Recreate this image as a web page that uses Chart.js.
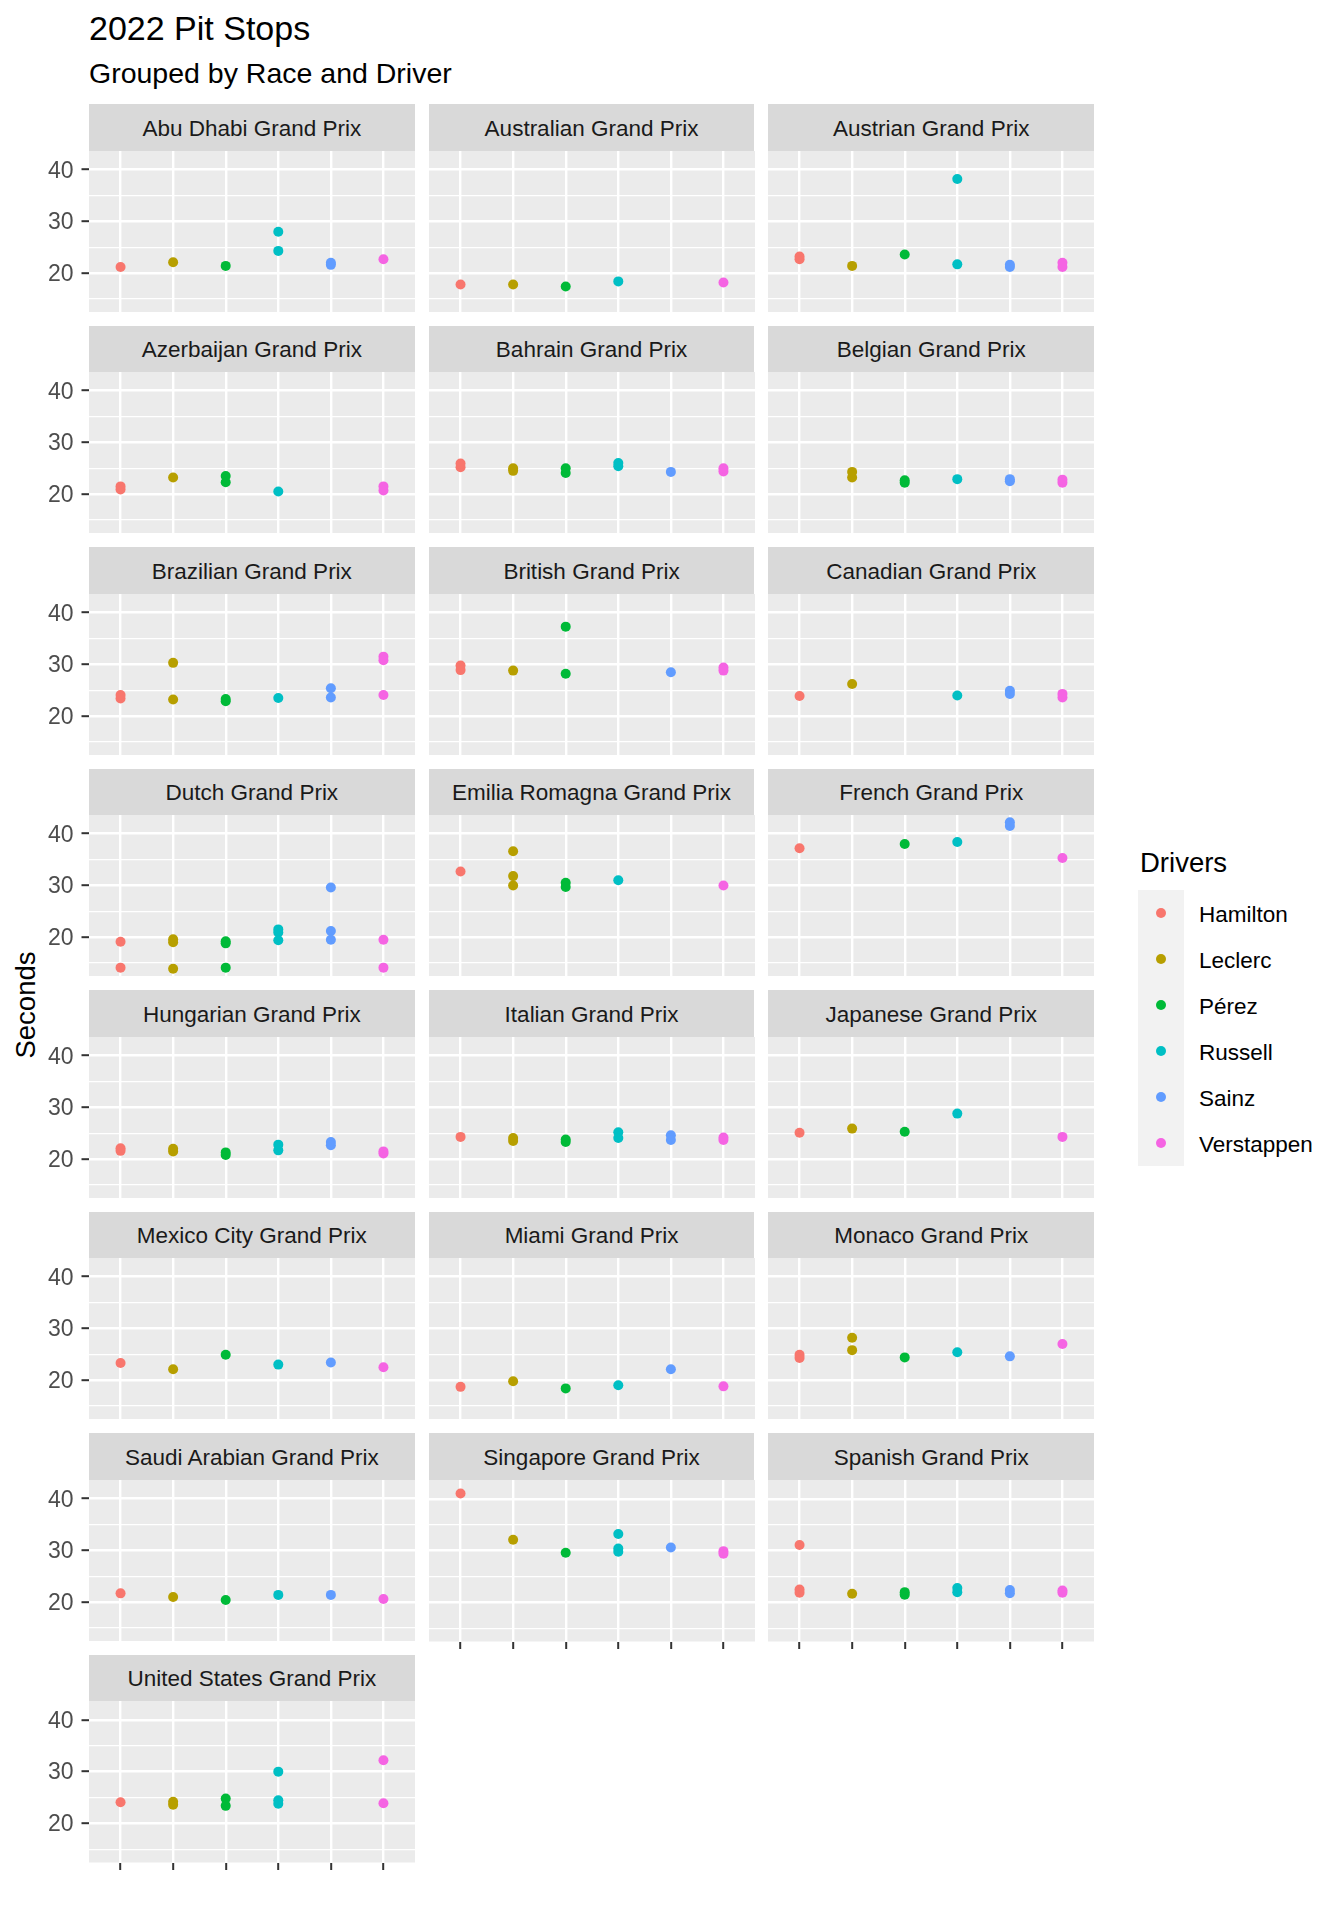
<!DOCTYPE html>
<html>
<head>
<meta charset="utf-8">
<script src="https://cdn.jsdelivr.net/npm/chart.js@4"></script>
<style>
  body { margin: 0; background: #fff; width: 1344px; height: 1920px; position: relative; font-family: "Liberation Sans", Arial, sans-serif; }
  .abs { position: absolute; white-space: nowrap; }
  .strip { position: absolute; background: #D9D9D9; color: #1A1A1A; font-size: 22.5px; text-align: center; white-space: nowrap; }
  .legtxt { position: absolute; font-size: 22.5px; color: #000; line-height: 46px; white-space: nowrap; }
</style>
</head>
<body>
<div class="abs" style="left:89px; top:11px; font-size:34px; line-height:34px; color:#000;">2022 Pit Stops</div>
<div class="abs" style="left:89px; top:59px; font-size:28.5px; line-height:28.5px; color:#000;">Grouped by Race and Driver</div>
<div class="abs" style="left:26px; top:1005px; font-size:27.5px; color:#000; transform: translate(-50%, -50%) rotate(-90deg);">Seconds</div>
<div id="root"></div>
<script>
Chart.defaults.font.family = '"Liberation Sans", Arial, sans-serif';

const races = ['Abu Dhabi Grand Prix', 'Australian Grand Prix', 'Austrian Grand Prix',
  'Azerbaijan Grand Prix', 'Bahrain Grand Prix', 'Belgian Grand Prix',
  'Brazilian Grand Prix', 'British Grand Prix', 'Canadian Grand Prix',
  'Dutch Grand Prix', 'Emilia Romagna Grand Prix', 'French Grand Prix',
  'Hungarian Grand Prix', 'Italian Grand Prix', 'Japanese Grand Prix',
  'Mexico City Grand Prix', 'Miami Grand Prix', 'Monaco Grand Prix',
  'Saudi Arabian Grand Prix', 'Singapore Grand Prix', 'Spanish Grand Prix',
  'United States Grand Prix'];
const drivers = ['Hamilton', 'Leclerc', 'Pérez', 'Russell', 'Sainz', 'Verstappen'];
const driverColors = ['#F8766D', '#B79F00', '#00BA38', '#00BFC4', '#619CFF', '#F564E3'];
const yTicks = [15, 20, 25, 30, 35, 40];

// pit stop times (seconds), one list per race in the order of `races`
const hamilton = [[21.2], [17.8], [22.7, 23.2], [20.9, 21.5], [25.2, 25.9], [], [23.4, 24.1],
  [29.8, 28.9], [23.9], [19.1, 14.1], [32.7], [37.2], [21.6, 22.1], [24.3], [25.1], [23.3],
  [18.7], [24.3, 24.9], [21.7], [41.0], [31.1, 22.5, 21.9], [24.1]];
const leclerc = [[22.1], [17.8], [21.4], [23.2], [24.5, 25.0], [23.2, 24.3], [30.3, 23.2],
  [28.8], [26.2], [19.0, 19.6, 13.9], [36.6, 31.8, 30.0], [], [21.5, 22.0], [23.5, 24.1],
  [25.9], [22.1], [19.8], [28.2, 25.8], [21.0], [32.1], [21.7], [24.2, 23.6]];
const perez = [[21.4], [17.4], [23.6], [23.5, 22.3], [24.1, 25.0], [22.2, 22.7], [22.9, 23.3],
  [37.3, 28.2], [], [18.8, 19.2, 14.1], [30.5, 29.7], [38.0], [20.8, 21.3], [23.3, 23.8],
  [25.3], [24.9], [18.4], [24.4], [20.4], [29.6], [22.0, 21.5], [24.8, 23.4]];
const russell = [[28.0, 24.3], [18.4], [38.2, 21.7], [20.5], [25.4, 26.0], [22.9], [23.5],
  [], [24.0], [21.5, 20.9, 19.4], [31.0], [38.4], [22.8, 21.7], [25.2, 24.1], [28.8], [23.0],
  [19.0], [25.4], [21.4], [33.2, 30.4, 29.8], [22.8, 22.0], [30.0, 24.5, 23.8]];
const sainz = [[21.6, 22.0], [], [21.2, 21.6], [], [24.3], [22.5, 22.9], [25.4, 23.6],
  [28.5], [24.3, 24.9], [29.6, 21.2, 19.5], [], [42.2, 41.5], [23.3, 22.7], [24.6, 23.7],
  [], [23.4], [22.1], [24.6], [21.4], [30.6], [22.4, 21.8], []];
const verstappen = [[22.7], [18.2], [21.2, 22.0], [20.7, 21.5], [24.4, 25.0], [22.2, 22.8],
  [31.5, 30.8, 24.1], [29.4, 28.8], [23.6, 24.3], [19.5, 14.1], [30.0], [35.3], [21.1, 21.5],
  [23.7, 24.2], [24.3], [22.5], [18.8], [27.0], [20.6], [29.9, 29.4], [22.3, 21.9], [32.2, 23.9]];

const series = [hamilton, leclerc, perez, russell, sainz, verstappen];

// shared y range, ggplot-style 5% expansion
const allTimes = series.flat(2);
const yLo = Math.min(...allTimes), yHi = Math.max(...allTimes);
const yMin = yLo - (yHi - yLo) * 0.05;
const yMax = yHi + (yHi - yLo) * 0.05;

// layout
const colX = [89, 428.7, 768.4];
const panelW = 325.7;
const gridTop = 104;
const stripH = 46.7;
const panelH = 161;
const rowPitch = 221.5;
const tickLen = 7.5;

const panelBg = {
  id: 'panelBg',
  beforeDraw(chart) {
    const a = chart.chartArea;
    const ctx = chart.ctx;
    ctx.save();
    ctx.fillStyle = '#EBEBEB';
    ctx.fillRect(a.left, a.top, a.right - a.left, a.bottom - a.top);
    ctx.restore();
  }
};

const root = document.getElementById('root');

races.forEach((race, r) => {
  const row = Math.floor(r / 3), col = r % 3;
  const stripTop = gridTop + row * rowPitch;
  const pTop = stripTop + stripH;
  const left = col === 0;
  const bottom = r >= races.length - 3;

  const strip = document.createElement('div');
  strip.className = 'strip';
  strip.style.left = colX[col] + 'px';
  strip.style.top = stripTop + 'px';
  strip.style.width = panelW + 'px';
  strip.style.height = (stripH - 1.5) + 'px';
  strip.style.paddingTop = '1.5px';
  strip.style.lineHeight = (stripH - 1.5) + 'px';
  strip.textContent = race;
  root.appendChild(strip);

  const axisW = left ? 50 : 0;
  const axisH = bottom ? tickLen : 0;
  const canvas = document.createElement('canvas');
  const cw = Math.round(panelW + axisW), ch = Math.round(panelH + axisH);
  canvas.width = cw; canvas.height = ch;
  canvas.style.position = 'absolute';
  canvas.style.left = (colX[col] - axisW) + 'px';
  canvas.style.top = pTop + 'px';
  canvas.style.width = cw + 'px';
  canvas.style.height = ch + 'px';
  root.appendChild(canvas);

  new Chart(canvas, {
    type: 'scatter',
    data: {
      datasets: drivers.map((d, i) => ({
        label: d,
        data: series[i][r].map(v => ({ x: i, y: v })),
        pointRadius: 5,
        pointBorderWidth: 0,
        pointBackgroundColor: driverColors[i],
        backgroundColor: driverColors[i]
      }))
    },
    options: {
      responsive: false,
      animation: false,
      events: [],
      layout: { padding: 0, autoPadding: false },
      plugins: { legend: { display: false }, tooltip: { enabled: false } },
      scales: {
        x: {
          type: 'linear',
          min: -0.6,
          max: drivers.length - 1 + 0.6,
          afterBuildTicks: s => { s.ticks = drivers.map((d, i) => ({ value: i })); },
          afterFit: s => { s.height = axisH; s.paddingLeft = 0; s.paddingRight = 0; },
          border: { display: false },
          ticks: { display: false, autoSkip: false },
          grid: {
            color: '#FFFFFF',
            lineWidth: 2.4,
            drawTicks: bottom,
            tickLength: tickLen,
            tickColor: '#333333',
            tickWidth: 2
          }
        },
        y: {
          min: yMin,
          max: yMax,
          afterBuildTicks: s => { s.ticks = yTicks.map(v => ({ value: v })); },
          afterFit: s => { s.width = axisW; s.paddingTop = 0; s.paddingBottom = 0; },
          border: { display: false },
          ticks: {
            display: left,
            autoSkip: false,
            padding: 8,
            labelOffset: 1.5,
            color: '#4D4D4D',
            font: { size: 23 },
            callback: v => (v % 10 === 0 ? String(v) : '')
          },
          grid: {
            color: '#FFFFFF',
            lineWidth: c => (c.tick && c.tick.value % 10 === 0 ? 2.4 : 1.2),
            drawTicks: left,
            tickLength: tickLen,
            tickWidth: 2,
            tickColor: c => (c.tick && c.tick.value % 10 === 0 ? '#333333' : 'rgba(0,0,0,0)')
          }
        }
      }
    },
    plugins: [panelBg]
  });
});

// legend
const legX = 1138, legTop = 890, keyH = 46;
const lt = document.createElement('div');
lt.className = 'abs';
lt.style.cssText = 'left:' + (legX + 2) + 'px; top:849px; font-size:27.5px; line-height:27.5px; color:#000;';
lt.textContent = 'Drivers';
root.appendChild(lt);
const keyBg = document.createElement('div');
keyBg.className = 'abs';
keyBg.style.cssText = 'left:' + legX + 'px; top:' + legTop + 'px; width:46px; height:' + (keyH * drivers.length) + 'px; background:#F2F2F2;';
root.appendChild(keyBg);
drivers.forEach((d, i) => {
  const dot = document.createElement('div');
  dot.className = 'abs';
  dot.style.cssText = 'left:' + (legX + 23 - 5) + 'px; top:' + (legTop + i * keyH + keyH / 2 - 5) +
    'px; width:10px; height:10px; border-radius:50%; background:' + driverColors[i] + ';';
  root.appendChild(dot);
  const t = document.createElement('div');
  t.className = 'legtxt';
  t.style.left = (legX + 61) + 'px';
  t.style.top = (legTop + i * keyH + 2) + 'px';
  t.textContent = d;
  root.appendChild(t);
});
</script>
</body>
</html>
